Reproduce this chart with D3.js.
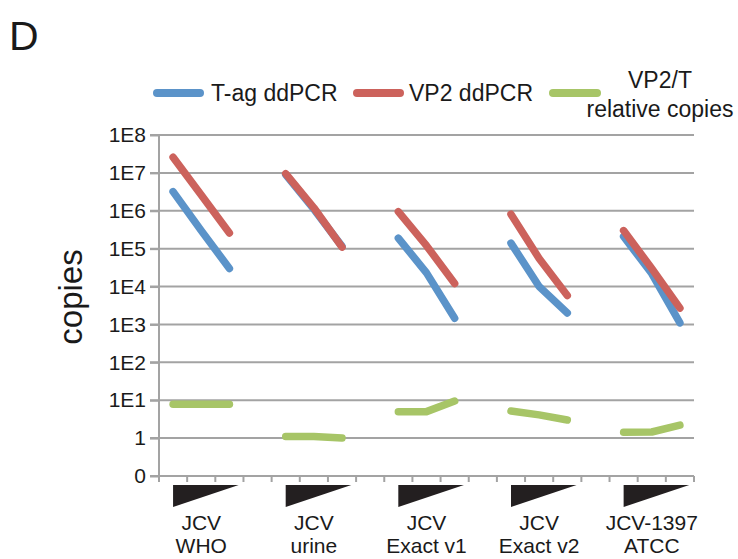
<!DOCTYPE html>
<html>
<head>
<meta charset="utf-8">
<script src="https://cdn.jsdelivr.net/npm/d3@7"></script>
<style>
  body { margin: 0; background: #fff; }
  text { font-family: "Liberation Sans", Arial, sans-serif; fill: #1a1a1a; }
</style>
</head>
<body>
<svg id="chart" width="738" height="559"></svg>
<script>
// ---- data ----
const groups = ["JCV WHO", "JCV urine", "JCV Exact v1", "JCV Exact v2", "JCV-1397 ATCC"];
const groupLine1 = ["JCV", "JCV", "JCV", "JCV", "JCV-1397"];
const groupLine2 = ["WHO", "urine", "Exact v1", "Exact v2", "ATCC"];
const dilutions = ["high", "mid", "low"];
const tagCopies = [
  [3.2e6, 3.0e5, 3.0e4],
  [9.0e6, 1.1e6, 1.15e5],
  [1.9e5, 2.3e4, 1.45e3],
  [1.4e5, 1.0e4, 2.0e3],
  [2.1e5, 2.2e4, 1.1e3]
];
const vp2Copies = [
  [2.6e7, 2.6e6, 2.6e5],
  [9.5e6, 1.2e6, 1.1e5],
  [9.5e5, 1.2e5, 1.2e4],
  [8.1e5, 5.5e4, 5.8e3],
  [3.0e5, 3.0e4, 2.7e3]
];
const ratioCopies = [
  [7.8, 7.8, 7.8],
  [1.1, 1.1, 1.0],
  [5.0, 5.0, 9.5],
  [5.2, 4.1, 3.0],
  [1.43, 1.45, 2.2]
];
const yTickValues = [0.1, 1, 1e1, 1e2, 1e3, 1e4, 1e5, 1e6, 1e7, 1e8];
const yTickLabels = ["0", "1", "1E1", "1E2", "1E3", "1E4", "1E5", "1E6", "1E7", "1E8"];
const seriesNames = ["T-ag ddPCR", "VP2 ddPCR", "VP2/T relative copies"];
const colors = { tag: "#5b93c9", vp2: "#cc625c", ratio: "#a7c567" };

// ---- slots: 3 per group with a gap between groups ----
const slots = [];
groups.forEach((g, gi) => {
  dilutions.forEach(d => slots.push(g + "|" + d));
  if (gi < groups.length - 1) slots.push("gap" + gi);
});

const svg = d3.select("#chart");
const x = d3.scaleBand().domain(slots).range([159, 694]).padding(0);
const y = d3.scaleLog().domain([0.1, 1e8]).range([476, 135]);
const cx = k => x(k) + x.bandwidth() / 2;
const gridColor = "#a3a3a3";

// gridlines
svg.append("g").selectAll("line").data(yTickValues.slice(1)).join("line")
  .attr("x1", 150).attr("x2", 694)
  .attr("y1", d => y(d)).attr("y2", d => y(d))
  .attr("stroke", gridColor).attr("stroke-width", 2);

// y axis
const yAxis = svg.append("g").attr("transform", "translate(159,0)")
  .call(d3.axisLeft(y).tickValues(yTickValues)
    .tickFormat((d, i) => yTickLabels[i]).tickSize(9).tickPadding(4));
yAxis.select(".domain").attr("stroke", gridColor).attr("stroke-width", 2)
  .attr("d", `M0,${y(0.1)}V${y(1e8)}`);
yAxis.selectAll(".tick line").attr("stroke", gridColor).attr("stroke-width", 2);
yAxis.selectAll(".tick text").attr("font-size", 21).attr("fill", "#1a1a1a")
  .attr("font-family", "Liberation Sans, Arial, sans-serif");

// x axis line & ticks at slot boundaries
svg.append("line").attr("x1", 150).attr("x2", 694)
  .attr("y1", y(0.1)).attr("y2", y(0.1))
  .attr("stroke", gridColor).attr("stroke-width", 2);
const bounds = slots.map(s => x(s)).concat([x(slots[slots.length - 1]) + x.bandwidth()]);
svg.append("g").selectAll("line").data(bounds).join("line")
  .attr("x1", d => d).attr("x2", d => d)
  .attr("y1", y(0.1)).attr("y2", y(0.1) + 6)
  .attr("stroke", gridColor).attr("stroke-width", 2);

// series lines
const line = d3.line().x(d => cx(d.k)).y(d => y(d.v));
function drawSeries(data, color) {
  groups.forEach((g, gi) => {
    const pts = dilutions.map((d, di) => ({ k: g + "|" + d, v: data[gi][di] }));
    svg.append("path").datum(pts).attr("d", line)
      .attr("fill", "none").attr("stroke", color).attr("stroke-width", 7.5)
      .attr("stroke-linecap", "round").attr("stroke-linejoin", "round");
  });
}
drawSeries(tagCopies, colors.tag);
drawSeries(vp2Copies, colors.vp2);
drawSeries(ratioCopies, colors.ratio);

// dilution wedges and group labels
groups.forEach((g, gi) => {
  const x0 = cx(g + "|" + dilutions[0]);
  const x1 = x0 + x.bandwidth() * 2.33;
  svg.append("path")
    .attr("d", `M${x0},485L${x1},485L${x0},507Z`)
    .attr("fill", "#231f20");
  const mid = cx(g + "|" + dilutions[1]);
  svg.append("text").attr("x", mid).attr("y", 530).attr("text-anchor", "middle")
    .attr("font-size", 21).text(groupLine1[gi]);
  svg.append("text").attr("x", mid).attr("y", 553).attr("text-anchor", "middle")
    .attr("font-size", 21).text(groupLine2[gi]);
});

// y title
svg.append("text").attr("transform", "translate(82,297) rotate(-90)")
  .attr("text-anchor", "middle").attr("font-size", 33).text("copies");

// panel letter
svg.append("text").attr("x", 9).attr("y", 50).attr("font-size", 41).text("D");

// legend
const leg = svg.append("g");
leg.append("line").attr("x1", 157).attr("x2", 200).attr("y1", 93).attr("y2", 93)
  .attr("stroke", colors.tag).attr("stroke-width", 8).attr("stroke-linecap", "round");
leg.append("text").attr("x", 211).attr("y", 101).attr("font-size", 23).text(seriesNames[0]);
leg.append("line").attr("x1", 357).attr("x2", 400).attr("y1", 93).attr("y2", 93)
  .attr("stroke", colors.vp2).attr("stroke-width", 8).attr("stroke-linecap", "round");
leg.append("text").attr("x", 409).attr("y", 101).attr("font-size", 23).text(seriesNames[1]);
leg.append("line").attr("x1", 553).attr("x2", 597).attr("y1", 93).attr("y2", 93)
  .attr("stroke", colors.ratio).attr("stroke-width", 8).attr("stroke-linecap", "round");
leg.append("text").attr("x", 660).attr("y", 88).attr("text-anchor", "middle")
  .attr("font-size", 23).text("VP2/T");
leg.append("text").attr("x", 660).attr("y", 117).attr("text-anchor", "middle")
  .attr("font-size", 23).text("relative copies");
</script>
</body>
</html>
